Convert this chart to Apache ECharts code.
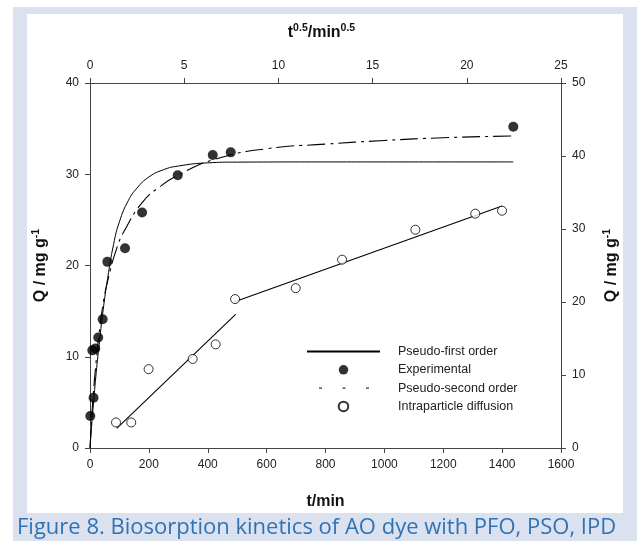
<!DOCTYPE html>
<html>
<head>
<meta charset="utf-8">
<script src="https://cdn.jsdelivr.net/npm/echarts@6/dist/echarts.min.js"></script>
<style>
html,body{margin:0;padding:0;background:#fff;}
#c{width:637px;height:541px;}
</style>
</head>
<body>
<div id="c"></div>
<script>
// Experimental data (t/min vs Q, left axis)
var expT = [1, 12, 8, 18, 28, 43, 59, 119, 177, 298, 417, 478, 1438];
var expQ = [3.5, 5.5, 10.7, 10.9, 12.1, 14.1, 20.4, 21.9, 25.8, 29.9, 32.1, 32.4, 35.2];

// Pseudo-first order curve
var pfoT = [0, 5, 10, 20, 30, 45, 60, 80, 100, 130, 160, 200, 250, 300, 400, 500, 800, 1100, 1438];
var pfoQ = [0, 2.2, 4.2, 7.9, 11.0, 15.2, 18.6, 22.3, 24.8, 27.1, 28.5, 29.7, 30.5, 30.9, 31.25, 31.33, 31.35, 31.35, 31.35];

// Pseudo-second order curve
var psoT = [0, 5, 10, 20, 30, 45, 60, 90, 120, 180, 240, 300, 420, 600, 800, 1000, 1200, 1438];
var psoQ = [0, 2.9, 5.4, 9.2, 12.3, 15.9, 18.3, 21.8, 24.0, 27.0, 28.7, 29.9, 31.6, 32.8, 33.3, 33.7, 34.0, 34.2];

// Intraparticle diffusion points (t^0.5 vs Q, top/right axes)
var ipdX = [1.38, 2.19, 3.11, 5.45, 6.67, 7.70, 10.92, 13.38, 17.27, 20.45, 21.87];
var ipdQ = [3.5, 3.5, 10.8, 12.2, 14.2, 20.4, 21.9, 25.8, 29.9, 32.1, 32.5];

// Intraparticle diffusion fitted segments
var ipdLine1X = [1.42, 7.73];
var ipdLine1Q = [2.7, 18.3];
var ipdLine2X = [7.64, 21.87];
var ipdLine2Q = [20.0, 33.15];

// Axis ticks
var bottomTicks = [0, 1600, 200];
var topTicks = [0, 25, 5];
var leftTicks = [0, 40, 10];
var rightTicks = [0, 50, 10];

function pairs(a, b) { return a.map(function (v, i) { return [v, b[i]]; }); }

var FONT = 'Liberation Sans, Arial, sans-serif';
var AX = '#444';
var labelStyle = { color: '#222', fontSize: 12, fontFamily: FONT, margin: 11,
  formatter: function (v) { return String(v); } };
var nameStyleBase = {
  color: '#111', fontSize: 16, fontWeight: 'bold', fontFamily: FONT, lineHeight: 20,
  rich: { sup: { fontSize: 10.5, fontWeight: 'bold', fontFamily: FONT, color: '#111', verticalAlign: 'top', lineHeight: 10 } }
};

function axisCommon(extra, namePad) {
  var ns = JSON.parse(JSON.stringify(nameStyleBase));
  if (namePad) ns.padding = namePad;
  var o = {
    type: 'value',
    splitLine: { show: false },
    axisLine: { show: true, onZero: false, lineStyle: { color: AX, width: 1 } },
    axisTick: { show: true, inside: false, length: 5, lineStyle: { color: AX } },
    axisLabel: Object.assign({}, labelStyle),
    nameLocation: 'middle',
    nameTextStyle: ns
  };
  return Object.assign(o, extra);
}

var chart = echarts.init(document.getElementById('c'), null, { renderer: 'canvas' });
var option = {
  backgroundColor: '#ffffff',
  animation: false,
  graphic: [
    { type: 'rect', z: -100, shape: { x: 13, y: 7, width: 624, height: 534 }, style: { fill: '#dce1ef' } },
    { type: 'rect', z: -99, shape: { x: 27, y: 14, width: 596, height: 499 }, style: { fill: '#ffffff' } }
  ],
  title: {
    text: 'Figure 8. Biosorption kinetics of AO dye with PFO, PSO, IPD',
    left: 12, top: 512,
    textStyle: { color: '#2E74B5', fontSize: 22, fontWeight: 'normal', fontFamily: 'Open Sans, Noto Sans, sans-serif' }
  },
  grid: { left: 90, right: 76, top: 83, bottom: 93, containLabel: false },
  xAxis: [
    axisCommon({ position: 'bottom', min: bottomTicks[0], max: bottomTicks[1], interval: bottomTicks[2],
      name: 't/min', nameGap: 44 }),
    axisCommon({ position: 'top', min: topTicks[0], max: topTicks[1], interval: topTicks[2],
      name: 't{sup|0.5}/min{sup|0.5}', nameGap: 40 }, [0, 8, 0, 0])
  ],
  yAxis: [
    axisCommon({ position: 'left', min: leftTicks[0], max: leftTicks[1], interval: leftTicks[2],
      name: 'Q / mg g{sup|-1}', nameGap: 39, nameRotate: 90 }),
    axisCommon({ position: 'right', min: rightTicks[0], max: rightTicks[1], interval: rightTicks[2],
      name: 'Q / mg g{sup|-1}', nameGap: 41, nameRotate: 90 })
  ],
  legend: {
    orient: 'vertical',
    left: 301, top: 340,
    itemWidth: 73, itemHeight: 9.5, itemGap: 5.3,
    textStyle: { color: '#222', fontSize: 12.5, fontFamily: FONT, padding: [0, 0, 0, 13] },
    data: [
      { name: 'Pseudo-first order', itemStyle: { color: 'rgba(0,0,0,0)', borderWidth: 0, opacity: 0 } },
      { name: 'Experimental' },
      { name: 'Pseudo-second order', itemStyle: { color: 'rgba(0,0,0,0)', borderWidth: 0, opacity: 0 },
        lineStyle: { type: [3, 20.5], dashOffset: 11.5, width: 1 } },
      { name: 'Intraparticle diffusion' }
    ]
  },
  series: [
    {
      name: 'Pseudo-first order', type: 'line', xAxisIndex: 0, yAxisIndex: 0,
      data: pairs(pfoT, pfoQ), symbol: 'none', smooth: 0.5,
      lineStyle: { color: '#000', width: 1 }, itemStyle: { color: '#000' }, z: 3
    },
    {
      name: 'Pseudo-second order', type: 'line', xAxisIndex: 0, yAxisIndex: 0,
      data: pairs(psoT, psoQ), symbol: 'none', smooth: 0.5,
      lineStyle: { color: '#000', width: 1.1, type: [18, 5, 3, 5] }, itemStyle: { color: '#000' }, z: 3
    },
    {
      name: 'IPD fit 1', type: 'line', xAxisIndex: 1, yAxisIndex: 1,
      data: pairs(ipdLine1X, ipdLine1Q), symbol: 'none',
      lineStyle: { color: '#000', width: 1.1 }, z: 3
    },
    {
      name: 'IPD fit 2', type: 'line', xAxisIndex: 1, yAxisIndex: 1,
      data: pairs(ipdLine2X, ipdLine2Q), symbol: 'none',
      lineStyle: { color: '#000', width: 1.1 }, z: 3
    },
    {
      name: 'Experimental', type: 'scatter', xAxisIndex: 0, yAxisIndex: 0,
      data: pairs(expT, expQ), symbol: 'circle', symbolSize: 10,
      itemStyle: { color: '#000' }, z: 5
    },
    {
      name: 'Intraparticle diffusion', type: 'scatter', xAxisIndex: 1, yAxisIndex: 1,
      data: pairs(ipdX, ipdQ), symbol: 'circle', symbolSize: 9,
      itemStyle: { color: '#fff', borderColor: '#000', borderWidth: 1 }, z: 5
    }
  ]
};
chart.setOption(option);
</script>
</body>
</html>
